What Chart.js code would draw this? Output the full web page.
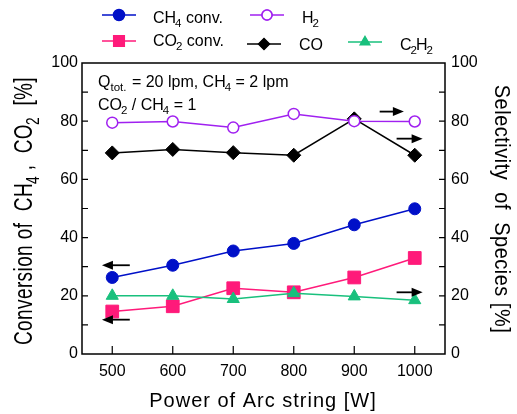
<!DOCTYPE html>
<html>
<head>
<meta charset="utf-8">
<script src="https://cdn.jsdelivr.net/npm/chart.js@4"></script>
<style>
  html, body { margin: 0; padding: 0; background: #fff; }
  #wrap { width: 517px; height: 414px; }
</style>
</head>
<body>
<div id="wrap"><canvas id="myChart" width="517" height="414"></canvas></div>
<script>
// data
const power = [500, 600, 700, 800, 900, 1000];
const ch4Conv = [26.3, 30.5, 35.4, 38.0, 44.4, 49.9];
const co2Conv = [14.6, 16.4, 22.6, 21.2, 26.3, 33.0];
const h2Sel = [79.5, 79.9, 77.8, 82.5, 80.0, 79.9];
const coSel = [69.1, 70.3, 69.2, 68.3, 80.8, 68.3];
const c2h2Sel = [20.0, 20.0, 18.9, 20.9, 19.8, 18.5];
const xTicks = [500, 600, 700, 800, 900, 1000];
const yTicks = [0, 20, 40, 60, 80, 100];

const FONT = '"Liberation Sans", Arial, sans-serif';

function pts(ys) {
  return power.map((x, i) => ({ x: x, y: ys[i] }));
}

// arrows showing which axis a curve belongs to (data coords)
const arrows = [
  { y: 30.5, from: 529, to: 483, axis: 'y' },
  { y: 11.8, from: 529, to: 483, axis: 'y' },
  { y: 83.3, from: 942, to: 982, axis: 'y2' },
  { y: 74.0, from: 970, to: 1013, axis: 'y2' },
  { y: 21.2, from: 970, to: 1013, axis: 'y2' }
];

// text with subscripts: parts = [[text, isSub, extraGap], ...]
function richWidth(ctx, parts, size, sp) {
  let w = 0;
  ctx.letterSpacing = (sp || 0) + 'px';
  parts.forEach(p => {
    ctx.font = (p[1] ? size * 0.72 : size) + 'px ' + FONT;
    w += ctx.measureText(p[0]).width + (p[2] || 0);
  });
  ctx.letterSpacing = '0px';
  return w;
}
function drawRich(ctx, parts, x, y, size, sp) {
  ctx.textBaseline = 'alphabetic';
  ctx.textAlign = 'left';
  ctx.letterSpacing = (sp || 0) + 'px';
  parts.forEach(p => {
    ctx.font = (p[1] ? size * 0.72 : size) + 'px ' + FONT;
    ctx.fillText(p[0], x, p[1] ? y + size * 0.28 : y);
    x += ctx.measureText(p[0]).width + (p[2] || 0);
  });
  ctx.letterSpacing = '0px';
}

const legendItems = [
  { label: [['CH', 0, -1], ['4', 1], [' conv.', 0]], color: '#0010c8', style: 'circle', r: 5.5, fill: true, x: 102, y: 15, tx: 153, ty: 23 },
  { label: [['H', 0, -1], ['2', 1]], color: '#a020f0', style: 'circle', r: 5, fill: false, x: 250, y: 15, tx: 302, ty: 23 },
  { label: [['CO', 0, -1], ['2', 1], [' conv.', 0]], color: '#ff1a7a', style: 'rect', r: 7.5, fill: true, x: 102, y: 41, tx: 153, ty: 46 },
  { label: [['CO', 0]], color: '#000000', style: 'rectRot', r: 5.5, fill: true, x: 247, y: 44, tx: 299, ty: 50 },
  { label: [['C', 0, -1], ['2', 1, -1], ['H', 0, -1], ['2', 1]], color: '#19c07d', style: 'triangle', r: 5.5, fill: true, x: 348, y: 42, tx: 400, ty: 50 }
];

const framePlugin = {
  id: 'frame',
  afterDraw(chart) {
    const ctx = chart.ctx;
    const a = chart.chartArea;
    const sx = chart.scales.x, sy = chart.scales.y;
    ctx.save();
    ctx.strokeStyle = '#000';
    ctx.lineWidth = 1.5;
    ctx.strokeRect(a.left, a.top, a.right - a.left, a.bottom - a.top);
    ctx.lineWidth = 1.2;
    ctx.beginPath();
    for (let v = 10; v < 100; v += 10) {
      const y = sy.getPixelForValue(v);
      ctx.moveTo(a.left, y); ctx.lineTo(a.left + 6, y);
      ctx.moveTo(a.right, y); ctx.lineTo(a.right - 6, y);
    }
    xTicks.forEach(v => {
      const x = sx.getPixelForValue(v);
      ctx.moveTo(x, a.bottom); ctx.lineTo(x, a.bottom - 8);
    });
    ctx.stroke();

    // arrows
    ctx.fillStyle = '#000';
    arrows.forEach(ar => {
      const s = chart.scales[ar.axis];
      const y = s.getPixelForValue(ar.y);
      const x1 = sx.getPixelForValue(ar.from), x2 = sx.getPixelForValue(ar.to);
      const d = x2 > x1 ? 1 : -1;
      ctx.lineWidth = 1.8;
      ctx.beginPath();
      ctx.moveTo(x1, y); ctx.lineTo(x2 - d * 8, y);
      ctx.stroke();
      ctx.beginPath();
      ctx.moveTo(x2, y);
      ctx.lineTo(x2 - d * 11, y - 4.5);
      ctx.lineTo(x2 - d * 11, y + 4.5);
      ctx.closePath();
      ctx.fill();
    });

    // legend
    legendItems.forEach(it => {
      ctx.strokeStyle = it.color;
      ctx.lineWidth = 1.5;
      ctx.beginPath();
      ctx.moveTo(it.x, it.y); ctx.lineTo(it.x + 34, it.y);
      ctx.stroke();
      Chart.helpers.drawPoint(ctx, {
        pointStyle: it.style, radius: it.r, rotation: 0, borderWidth: 1.5
      }, it.x + 17, it.y);
      if (it.fill) { ctx.fillStyle = it.color; ctx.fill(); }
      else { ctx.fillStyle = '#fff'; ctx.fill(); ctx.stroke(); }
      ctx.fillStyle = '#000';
      drawRich(ctx, it.label, it.tx, it.ty, 16);
    });

    // condition text
    ctx.fillStyle = '#000';
    drawRich(ctx, [['Q', 0], ['tot.', 1, 1], [' = 20 lpm, CH', 0, -1], ['4', 1], [' = 2 lpm', 0]], 98, 87, 16);
    drawRich(ctx, [['CO', 0, -1], ['2', 1], [' / CH', 0, -1], ['4', 1], [' = 1', 0]], 98, 110, 16);

    // axis titles
    const xt = [['Power of Arc string [W]', 0]];
    const xw = richWidth(ctx, xt, 20, 1);
    drawRich(ctx, xt, 263 - xw / 2, 407, 20, 1);

    const lt = [['Conversion of  CH', 0, -1], ['4', 1], [' ,  CO', 0, -1], ['2', 1], ['  [%]', 0]];
    const lw = richWidth(ctx, lt, 19, 0.4);
    ctx.save();
    ctx.translate(32, 211);
    ctx.rotate(-Math.PI / 2);
    ctx.scale(1, 1.4);
    drawRich(ctx, lt, -lw / 2, 0, 19, 0.4);
    ctx.restore();

    const rt = [['Selectivity  of  Species [%]', 0]];
    const rw = richWidth(ctx, rt, 20, 0.5);
    ctx.save();
    ctx.translate(495, 209);
    ctx.rotate(Math.PI / 2);
    ctx.scale(1, 1.12);
    drawRich(ctx, rt, -rw / 2, 0, 20, 0.5);
    ctx.restore();
    ctx.restore();
  }
};

function ds(label, ys, color, style, radius, fill, axis) {
  return {
    label: label,
    data: pts(ys),
    yAxisID: axis,
    borderColor: color,
    backgroundColor: fill ? color : '#ffffff',
    borderWidth: 1.5,
    pointStyle: style,
    pointRadius: radius,
    pointHoverRadius: radius,
    pointBorderWidth: fill ? 1 : 1.5,
    pointBorderColor: color,
    pointBackgroundColor: fill ? color : '#ffffff',
    tension: 0,
    clip: false
  };
}

const ctx = document.getElementById('myChart').getContext('2d');
const myChart = new Chart(ctx, {
  type: 'line',
  data: {
    datasets: [
      ds('H2', h2Sel, '#a020f0', 'circle', 5.5, false, 'y2'),
      ds('CO', coSel, '#000000', 'rectRot', 7, true, 'y2'),
      ds('C2H2', c2h2Sel, '#19c07d', 'triangle', 7, true, 'y2'),
      ds('CO2 conv.', co2Conv, '#ff1a7a', 'rect', 9, true, 'y'),
      ds('CH4 conv.', ch4Conv, '#0010c8', 'circle', 6, true, 'y')
    ]
  },
  options: {
    responsive: false,
    animation: false,
    layout: { padding: { top: 63, left: 0, right: 0, bottom: 0 } },
    plugins: { legend: { display: false }, tooltip: { enabled: false } },
    scales: {
      x: {
        type: 'linear',
        min: 450,
        max: 1050,
        afterBuildTicks: s => { s.ticks = xTicks.map(v => ({ value: v })); },
        afterFit: s => { s.height = 60; },
        grid: { display: false, drawTicks: false },
        border: { display: false },
        ticks: { color: '#000', padding: 8, font: { family: FONT, size: 16 }, maxRotation: 0, callback: v => String(v) }
      },
      y: {
        position: 'left',
        min: 0,
        max: 100,
        afterBuildTicks: s => { s.ticks = yTicks.map(v => ({ value: v })); },
        afterFit: s => { s.width = 82; },
        grid: { display: false, drawTicks: false },
        border: { display: false },
        ticks: { color: '#000', padding: 4, font: { family: FONT, size: 16 } }
      },
      y2: {
        position: 'right',
        min: 0,
        max: 100,
        afterBuildTicks: s => { s.ticks = yTicks.map(v => ({ value: v })); },
        afterFit: s => { s.width = 72; },
        grid: { display: false, drawTicks: false },
        border: { display: false },
        ticks: { color: '#000', padding: 6, font: { family: FONT, size: 16 } }
      }
    }
  },
  plugins: [framePlugin]
});
</script>
</body>
</html>
